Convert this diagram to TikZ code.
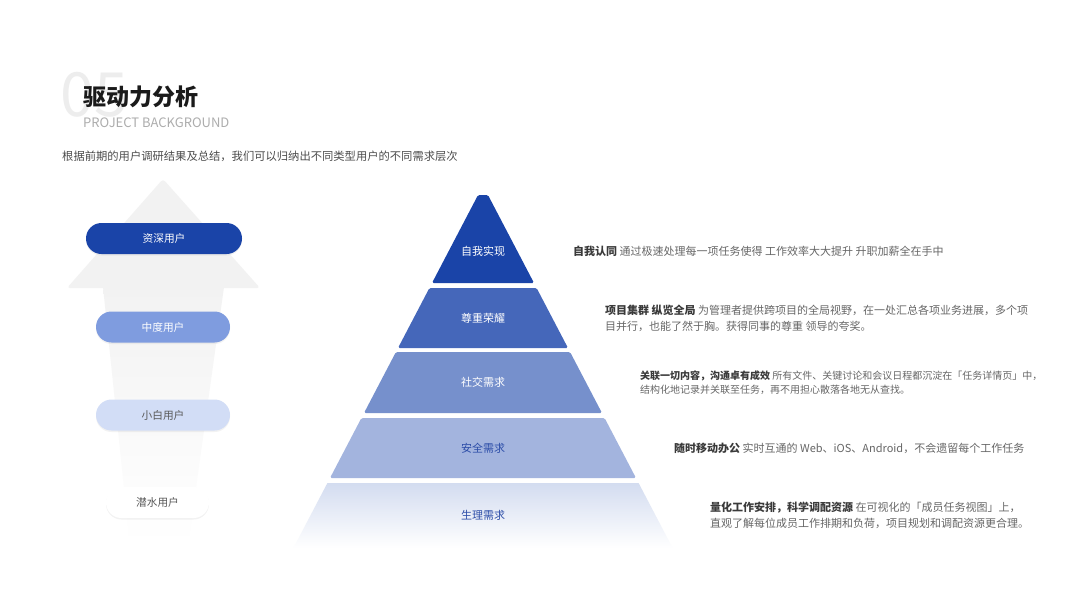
\documentclass[tikz,border=0pt]{standalone}
\usepackage{fontspec}
\setmainfont{Noto Sans CJK SC}
\usepackage{xcolor}
\usetikzlibrary{positioning, shadows}
\definecolor{deepc}{HTML}{1A44A8}
\definecolor{lvlb}{HTML}{4567BA}
\definecolor{lvlc}{HTML}{7690CC}
\definecolor{lvld}{HTML}{A3B4DE}
\definecolor{lvle}{HTML}{D3DCF0}
\definecolor{midc}{HTML}{7F9CDF}
\definecolor{lowc}{HTML}{D2DDF6}
\definecolor{arrowc}{HTML}{F2F2F2}
\definecolor{titlec}{HTML}{1A1A1A}
\definecolor{boldc}{HTML}{3A3A3A}
\definecolor{txtc}{HTML}{666666}
\definecolor{lvltxt}{HTML}{2C4DA8}
\newcommand{\hl}[1]{\textbf{\color{boldc}#1}}

\begin{document}
\begin{tikzpicture}[
  x=1pt, y=-1pt,
  pill/.style={rounded corners=15.5pt, minimum height=31pt, inner sep=0pt,
    font=\fontsize{10.7}{12}\selectfont,
    drop shadow={opacity=0.10, shadow xshift=0pt, shadow yshift=-1.5pt}},
  lvl/.style={font=\fontsize{11}{12}\selectfont, text=white},
  desc/.style={anchor=west, align=left, inner sep=0pt, text=txtc,
    font=\fontsize{11}{16}\selectfont}
]
\useasboundingbox[fill=white] (0,0) rectangle (1067,600);

% header
\node[anchor=west, inner sep=0pt, font=\fontsize{61}{61}\selectfont, text=black!7] (num) at (60,95) {05};
\node[anchor=west, inner sep=0pt, font=\fontsize{23}{24}\selectfont\bfseries, text=titlec] (title) at (83,97) {驱动力分析};
\node[anchor=west, inner sep=0pt, font=\fontsize{13}{14}\selectfont, text=black!32] (sub) at (83,123) {PROJECT BACKGROUND};
\node[anchor=west, inner sep=0pt, font=\fontsize{11.3}{12}\selectfont, text=black!70] (intro) at (62,156)
  {根据前期的用户调研结果及总结，我们可以归纳出不同类型用户的不同需求层次};

% user arrow
\fill[arrowc, rounded corners=3pt] (163,179) -- (260,288) -- (67,288) -- cycle;
\shade[top color=arrowc, bottom color=white] (103,287) -- (224,287) -- (188,545) -- (130,545) -- cycle;

\node[pill, fill=deepc, text=white, minimum width=156pt] (u1) at (164,238.5) {资深用户};
\node[pill, fill=midc, text=white, minimum width=134pt] (u2) at (163,327) {中度用户};
\node[pill, fill=lowc, text=black!65, minimum width=134pt] (u3) at (163,415) {小白用户};
\node[pill, fill=white, text=black!65, minimum width=103pt] (u4) at (157.5,502.5) {潜水用户};

% pyramid
\foreach \t/\b/\c in {195/283/deepc, 288/348/lvlb, 352/413/lvlc, 418/478/lvld}
  \fill[\c, rounded corners=1.5pt] ({483-(\t-185.5)*0.523},\t) -- ({483+(\t-185.5)*0.523},\t)
    -- ({483+(\b-185.5)*0.523},\b) -- ({483-(\b-185.5)*0.523},\b) -- cycle;
\shade[top color=lvle, bottom color=white] ({483-(483-185.5)*0.523},483) -- ({483+(483-185.5)*0.523},483)
  -- ({483+(548-185.5)*0.523},548) -- ({483-(548-185.5)*0.523},548) -- cycle;

\node[lvl] (l1) at (483,251) {自我实现};
\node[lvl] (l2) at (483,318) {尊重荣耀};
\node[lvl] (l3) at (483,382) {社交需求};
\node[lvl, text=lvltxt] (l4) at (483,448) {安全需求};
\node[lvl, text=lvltxt] (l5) at (483,515) {生理需求};

% descriptions
\node[desc] (d1) at (573,251) {\hl{自我认同} 通过极速处理每一项任务使得 工作效率大大提升 升职加薪全在手中};
\node[desc] (d2) at (605,318) {\hl{项目集群 纵览全局} 为管理者提供跨项目的全局视野，在一处汇总各项业务进展，多个项\\
  目并行，也能了然于胸。获得同事的尊重 领导的夸奖。};
\node[desc, font=\fontsize{10}{14}\selectfont] (d3) at (640,383) {\hl{关联一切内容，沟通卓有成效} 所有文件、关键讨论和会议日程都沉淀在「任务详情页」中，\\
  结构化地记录并关联至任务，再不用担心散落各地无从查找。};
\node[desc] (d4) at (674,448) {\hl{随时移动办公} 实时互通的 Web、iOS、Android，不会遗留每个工作任务};
\node[desc] (d5) at (710,515) {\hl{量化工作安排，科学调配资源} 在可视化的「成员任务视图」上，\\
  直观了解每位成员工作排期和负荷，项目规划和调配资源更合理。};
\end{tikzpicture}
\end{document}
